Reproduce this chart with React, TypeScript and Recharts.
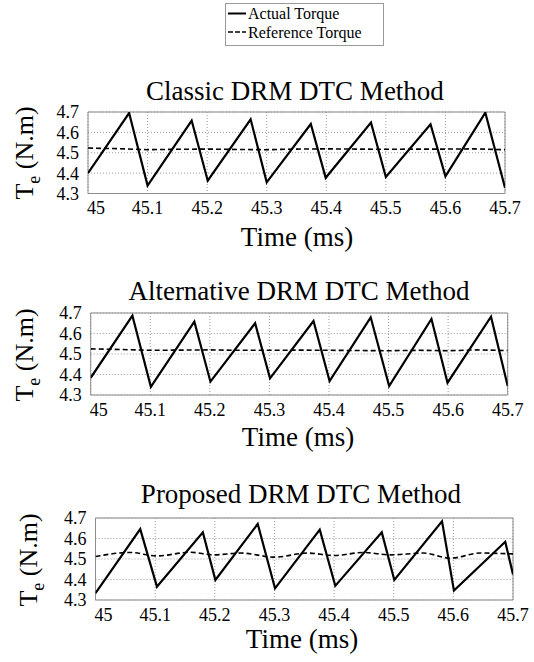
import { LineChart, Line, XAxis, YAxis, CartesianGrid, ReferenceArea } from 'recharts';

const FONT = "'Liberation Serif', 'Times New Roman', 'DejaVu Serif', serif";

const X_TICKS = [45, 45.1, 45.2, 45.3, 45.4, 45.5, 45.6, 45.7];
const Y_TICKS = [4.3, 4.4, 4.5, 4.6, 4.7];

// reference torque sampled every 0.05 ms
const refTime = [45, 45.05, 45.1, 45.15, 45.2, 45.25, 45.3, 45.35, 45.4, 45.45, 45.5, 45.55, 45.6, 45.65, 45.7];

// Classic DRM DTC
const classicTime = [45, 45.069, 45.1, 45.174, 45.201, 45.273, 45.3, 45.374, 45.399, 45.475, 45.5, 45.575, 45.6, 45.667, 45.7];
const classicActual = [4.4, 4.695, 4.339, 4.658, 4.363, 4.664, 4.355, 4.641, 4.377, 4.648, 4.381, 4.64, 4.384, 4.697, 4.328];
const classicRef = [4.523, 4.52, 4.515, 4.517, 4.518, 4.516, 4.515, 4.518, 4.519, 4.518, 4.517, 4.518, 4.518, 4.519, 4.515];

// Alternative DRM DTC
const altTime = [45, 45.07, 45.101, 45.174, 45.201, 45.276, 45.301, 45.374, 45.401, 45.47, 45.501, 45.572, 45.599, 45.672, 45.7];
const altActual = [4.384, 4.687, 4.34, 4.658, 4.365, 4.65, 4.381, 4.661, 4.368, 4.679, 4.344, 4.671, 4.36, 4.682, 4.344];
const altRef = [4.525, 4.522, 4.518, 4.519, 4.52, 4.518, 4.518, 4.519, 4.518, 4.517, 4.516, 4.518, 4.516, 4.52, 4.517];

// Proposed DRM DTC
const propTime = [45, 45.075, 45.103, 45.18, 45.201, 45.272, 45.301, 45.376, 45.402, 45.48, 45.501, 45.581, 45.601, 45.687, 45.7];
const propActual = [4.333, 4.646, 4.365, 4.63, 4.398, 4.671, 4.357, 4.643, 4.369, 4.63, 4.398, 4.684, 4.346, 4.584, 4.425];
const propRefTime = [45, 45.058, 45.103, 45.159, 45.198, 45.243, 45.301, 45.355, 45.4, 45.45, 45.494, 45.55, 45.595, 45.645, 45.7];
const propRef = [4.512, 4.532, 4.515, 4.533, 4.52, 4.529, 4.509, 4.529, 4.517, 4.532, 4.52, 4.529, 4.504, 4.529, 4.525];

const zip = (t: number[], v: number[]) => t.map((x, i) => ({ t: x, v: v[i] }));

const textStyle = { fontFamily: FONT };

const renderXTick = (props: any) => {
  const { x, y, payload } = props;
  const shift = payload.value === 45 ? 8 : 0;
  return (
    <text x={x + shift} y={y} dy="0.71em" textAnchor="middle" fontSize={18} style={textStyle} fill="#000">
      {payload.value}
    </text>
  );
};

const renderYTick = (props: any) => {
  const { x, y, payload } = props;
  return (
    <text x={x} y={y} dy="0.36em" textAnchor="end" fontSize={18} style={textStyle} fill="#000">
      {payload.value}
    </text>
  );
};

type PanelProps = {
  top: number;
  height: number;
  plotTop: number;
  plotBottom: number;
  plotLeft: number;
  plotRight: number;
  actual: Array<{ t: number; v: number }>;
  reference: Array<{ t: number; v: number }>;
  smoothRef?: boolean;
};

function TorquePanel({ top, height, plotTop, plotBottom, plotLeft, plotRight, actual, reference, smoothRef }: PanelProps) {
  const YAW = 40;
  const XAH = 25;
  return (
    <div style={{ position: 'absolute', left: 0, top }}>
      <LineChart
        width={534}
        height={height}
        margin={{
          top: plotTop - top,
          left: plotLeft - YAW,
          right: 534 - plotRight,
          bottom: height - (plotBottom - top) - XAH,
        }}
      >
        <CartesianGrid stroke="#9a9a9a" strokeDasharray="1 2" />
        <XAxis
          dataKey="t"
          type="number"
          domain={[45, 45.7]}
          ticks={X_TICKS}
          interval={0}
          allowDataOverflow
          height={XAH}
          tickLine={false}
          axisLine={false}
          tickMargin={2}
          tick={renderXTick}
        />
        <YAxis
          type="number"
          domain={[4.3, 4.7]}
          ticks={Y_TICKS}
          interval={0}
          allowDataOverflow
          width={YAW}
          tickLine={false}
          axisLine={false}
          tickMargin={3}
          tick={renderYTick}
        />
        <ReferenceArea x1={45} x2={45.7} y1={4.3} y2={4.7} fill="none" stroke="#8c8c8c" strokeWidth={1} />
        <Line
          data={reference}
          dataKey="v"
          type={smoothRef ? 'monotone' : 'linear'}
          stroke="#000"
          strokeWidth={1.6}
          strokeDasharray="5 3"
          dot={false}
          isAnimationActive={false}
        />
        <Line data={actual} dataKey="v" type="linear" stroke="#000" strokeWidth={2.2} dot={false} isAnimationActive={false} />
      </LineChart>
    </div>
  );
}

function YLabel({ x, y }: { x: number; y: number }) {
  return (
    <text transform={`translate(${x},${y}) rotate(-90)`} textAnchor="middle" fontSize={26} style={textStyle} fill="#000">
      T
      <tspan fontSize={18} dy={7}>e</tspan>
      <tspan dy={-7}> (N.m)</tspan>
    </text>
  );
}

function Caption({ x, y, children }: { x: number; y: number; children: string }) {
  return (
    <text x={x} y={y} textAnchor="middle" fontSize={27} style={textStyle} fill="#000">
      {children}
    </text>
  );
}

export default function App() {
  return (
    <div style={{ position: 'absolute', left: 0, top: 0, width: 534, height: 662, background: '#fff', fontFamily: FONT }}>
      <TorquePanel
        top={60}
        height={164}
        plotTop={112}
        plotBottom={193.5}
        plotLeft={88}
        plotRight={505}
        actual={zip(classicTime, classicActual)}
        reference={zip(refTime, classicRef)}
      />
      <TorquePanel
        top={260}
        height={165}
        plotTop={313}
        plotBottom={395}
        plotLeft={90.7}
        plotRight={507.7}
        actual={zip(altTime, altActual)}
        reference={zip(refTime, altRef)}
      />
      <TorquePanel
        top={465}
        height={165}
        plotTop={518}
        plotBottom={600}
        plotLeft={95.5}
        plotRight={513}
        actual={zip(propTime, propActual)}
        reference={zip(propRefTime, propRef)}
        smoothRef
      />
      <svg width={534} height={662} style={{ position: 'absolute', left: 0, top: 0, pointerEvents: 'none' }}>
        <rect x={225.5} y={3.5} width={158} height={42} fill="#fff" stroke="#999" />
        <line x1={228} y1={13.5} x2={246} y2={13.5} stroke="#000" strokeWidth={2} />
        <text x={248} y={18.5} fontSize={16} style={textStyle} fill="#000">Actual Torque</text>
        <line x1={228} y1={32} x2={246} y2={32} stroke="#000" strokeWidth={1.5} strokeDasharray="5 2" />
        <text x={248} y={37.5} fontSize={16} style={textStyle} fill="#000">Reference Torque</text>

        <Caption x={295} y={100}>Classic DRM DTC Method</Caption>
        <Caption x={297} y={246}>Time (ms)</Caption>
        <YLabel x={33} y={153} />

        <Caption x={299} y={300}>Alternative DRM DTC Method</Caption>
        <Caption x={298} y={446}>Time (ms)</Caption>
        <YLabel x={33} y={355} />

        <Caption x={301} y={503}>Proposed DRM DTC Method</Caption>
        <Caption x={302} y={648}>Time (ms)</Caption>
        <YLabel x={37} y={560} />
      </svg>
    </div>
  );
}
